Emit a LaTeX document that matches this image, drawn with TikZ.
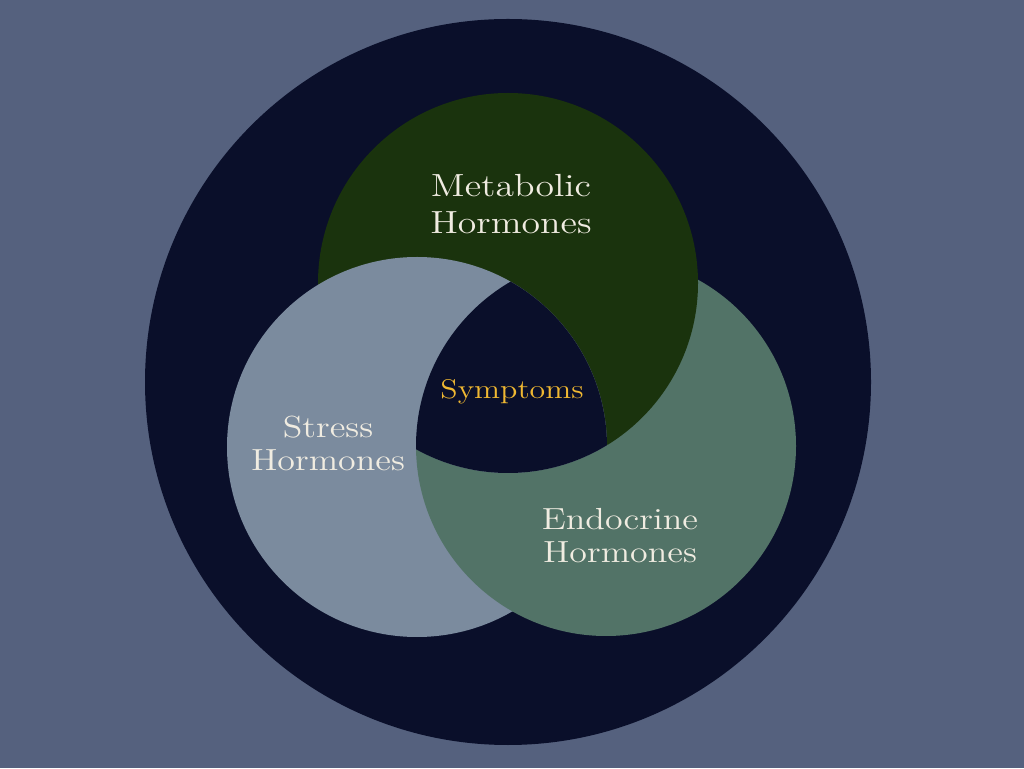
\documentclass[tikz,border=0pt]{standalone}
\usepackage{fontspec}
\setmainfont{lmroman12-regular.otf}[FakeStretch=1.18]
\usepackage{tikz}
\definecolor{bgSlate}{RGB}{85,97,126}
\definecolor{mNavy}{RGB}{10,15,42}
\definecolor{metGreen}{RGB}{26,51,13}
\definecolor{stressGrey}{RGB}{123,139,158}
\definecolor{endoGreen}{RGB}{82,115,103}
\definecolor{labelCream}{RGB}{240,236,225}
\definecolor{symGold}{RGB}{240,184,50}

\begin{document}
\begin{tikzpicture}[x=1pt, y=1pt,
    every node/.style={inner sep=0pt, align=center},
    hlabel/.style={labelCream, font={\fontsize{30.5}{33}\selectfont}}]
      % background and outer disc
      \fill[bgSlate] (0,0) rectangle (1024,768);
      \useasboundingbox (0,0) rectangle (1024,768);
      \fill[mNavy] (508,386) circle (363);
      % three hormone circles, each lying over the next
      \coordinate (met) at (508,485);
      \coordinate (str) at (417,321);
      \coordinate (end) at (606,322);
      \fill[endoGreen] (end) circle (190);
      \fill[metGreen] (met) circle (190);
      \fill[stressGrey] (str) circle (190);
      \begin{scope}[even odd rule]
        \clip (0,0) rectangle (1024,768) (met) circle (190);
        \clip (end) circle (190);
        \fill[endoGreen] (str) circle (191);
      \end{scope}
      % centre where all three meet
      \begin{scope}
        \clip (met) circle (190);
        \clip (str) circle (190);
        \fill[mNavy] (end) circle (190);
      \end{scope}
      % labels
      \node[hlabel, font={\fontsize{32}{37}\selectfont}] (metlabel) at (511,563.6) {Metabolic\\Hormones};
      \node[hlabel] (strlabel) at (328,324.2) {Stress\\Hormones};
      \node[hlabel] (endlabel) at (620,232.6) {Endocrine\\Hormones};
      \node[symGold, font={\fontsize{27}{30}\selectfont}, anchor=base] (symlabel) at (512,369) {Symptoms};
\end{tikzpicture}
\end{document}
